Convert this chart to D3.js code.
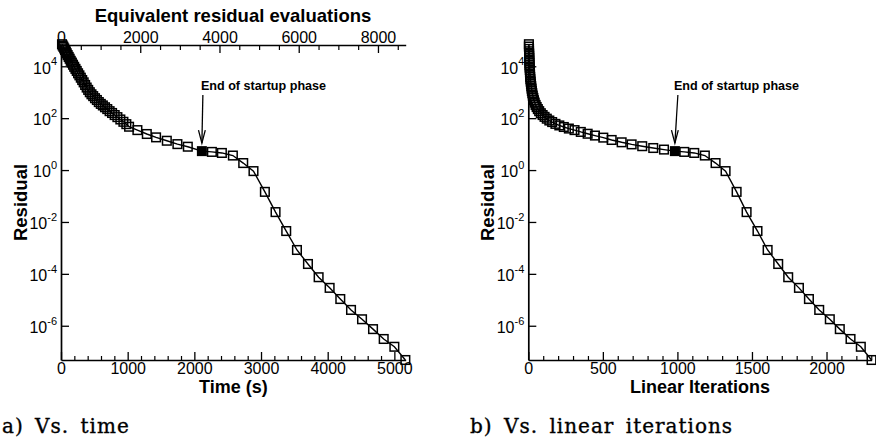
<!DOCTYPE html>
<html>
<head>
<meta charset="utf-8">
<script src="https://cdn.jsdelivr.net/npm/d3@7"></script>
<style>
  body { margin: 0; background: #fff; }
  svg { display: block; }
  text { font-family: "Liberation Sans", Arial, Helvetica, sans-serif; fill: #000; }
  .caption { font-family: "DejaVu Serif", "Liberation Serif", serif; }
</style>
</head>
<body>
<svg id="chart" width="876" height="437"></svg>
<script>
// Residual history against wall-clock time (panel a)
const timeSec = [15,25,36,48,60,73,86,100,115,130,146,163,180,198,217,236,256,276,297,318,
  340,362,385,408,432,457,483,510,538,567,597,628,660,694,729,766,805,846,890,936,
  980,1021,1146,1287,1426,1587,1746,1902,2113,
  2263,2413,2578,2733,2887,3058,3218,3378,3539,3704,3864,4029,4189,4350,4515,4680,4840,5000,5165];
const timeResidualLog10 = [4.85,4.80,4.75,4.69,4.63,4.57,4.50,4.43,4.36,4.29,4.21,4.14,4.06,3.98,3.90,3.82,3.73,3.65,3.56,3.47,
  3.38,3.28,3.18,3.09,3.00,2.92,2.85,2.77,2.70,2.62,2.55,2.49,2.42,2.35,2.27,2.20,2.12,2.04,1.95,1.86,
  1.77,1.67,1.54,1.39,1.26,1.13,1.00,0.90,0.73,
  0.70,0.66,0.56,0.27,-0.04,-0.84,-1.62,-2.35,-3.08,-3.62,-4.13,-4.54,-4.97,-5.39,-5.75,-6.13,-6.51,-6.81,-7.32];
const startupEndTime = 2113;

// Residual history against cumulative linear iterations (panel b)
const linearIters = [4,4,5,5,6,6,7,7,8,8,9,10,11,12,13,14,16,18,20,22,
  24,27,30,34,38,43,49,56,64,73,84,96,109,124,141,160,182,208,238,272,
  310,352,398,447,503,559,626,693,764,838,910,983,
  1046,1113,1184,1256,1323,1397,1464,1537,1605,1676,1743,1815,1882,1951,2022,2089,2161,2230,2302];
const linearResidualLog10 = [4.85,4.76,4.67,4.58,4.49,4.40,4.31,4.22,4.13,4.04,3.95,3.86,3.77,3.68,3.59,3.50,3.41,3.32,3.23,3.14,
  3.05,2.96,2.87,2.78,2.69,2.60,2.51,2.43,2.35,2.27,2.19,2.12,2.05,1.98,1.91,1.85,1.78,1.72,1.66,1.60,
  1.54,1.47,1.40,1.33,1.25,1.16,1.07,0.99,0.92,0.85,0.79,0.73,
  0.70,0.66,0.56,0.27,-0.04,-0.84,-1.62,-2.35,-3.08,-3.62,-4.13,-4.54,-4.97,-5.39,-5.75,-6.13,-6.51,-6.81,-7.32];
const startupEndLinear = 983;

// Axis ranges and tick values
const residualDomainLog10 = [-7.32, 4.82];
const residualTickExps = [4, 2, 0, -2, -4, -6];
const timeDomain = [0, 5170];
const timeTicks = [0, 1000, 2000, 3000, 4000, 5000];
const evalDomain = [0, 8700];
const evalTicks = [0, 2000, 4000, 6000, 8000];
const linearDomain = [0, 2303];
const linearTicks = [0, 500, 1000, 1500, 2000];

const svg = d3.select("#chart");
const plotTop = 45, plotBottom = 360;

const y = d3.scaleLog()
  .domain(residualDomainLog10.map(e => Math.pow(10, e)))
  .range([plotBottom, plotTop]);

function styleAxis(g) {
  g.select(".domain").attr("stroke", "#000").attr("stroke-width", 1.7);
  g.selectAll(".tick line").attr("stroke", "#000").attr("stroke-width", 1.3);
  g.selectAll(".tick text").attr("font-size", 16).attr("fill", "#000");
}

function minorAxis(g, axis, values) {
  g.call(axis.tickValues(values).tickFormat("").tickSizeOuter(0));
  g.select(".domain").remove();
  g.selectAll(".tick line").attr("stroke", "#000").attr("stroke-width", 1.2);
  return g;
}

function panel(opts) {
  const { left, right, xDomain, xTicks, minorStep, xs, logs, endX, xTitle } = opts;
  const x = d3.scaleLinear().domain(xDomain).range([left, right]);

  // bottom axis, ticks pointing inward
  const minorVals = d3.range(0, xDomain[1] + 1e-9, minorStep).filter(v => !xTicks.includes(v));
  svg.append("g").attr("transform", `translate(0,${plotBottom})`)
    .call(g => minorAxis(g, d3.axisBottom(x), minorVals).selectAll(".tick line").attr("y2", -4));
  svg.append("g").attr("transform", `translate(0,${plotBottom})`)
    .call(d3.axisBottom(x).tickValues(xTicks).tickFormat(d3.format("d"))
      .tickSizeInner(-8).tickSizeOuter(0).tickPadding(3))
    .call(styleAxis);

  // left axis with powers of ten
  const yAxis = svg.append("g").attr("transform", `translate(${left},0)`)
    .call(d3.axisLeft(y).tickValues(residualTickExps.map(e => Math.pow(10, e)))
      .tickSizeInner(-8).tickSizeOuter(0).tickPadding(4).tickFormat(""))
    .call(styleAxis);
  yAxis.selectAll(".tick text").each(function (d) {
    const t = d3.select(this).attr("dy", "0.42em").attr("x", -4);
    t.append("tspan").text("10");
    t.append("tspan").attr("font-size", 11).attr("dy", "-0.75em")
      .text(String(Math.round(Math.log10(d))));
  });

  // convergence line
  const pts = xs.map((v, i) => [x(v), y(Math.pow(10, logs[i]))]);
  svg.append("path").datum(pts)
    .attr("d", d3.line())
    .attr("fill", "none").attr("stroke", "#000").attr("stroke-width", 1.4);

  // hollow square symbols, filled at the end of the startup phase
  const s = 8.6, sf = 10;
  svg.append("g").selectAll("rect").data(pts.filter((p, i) => xs[i] !== endX)).join("rect")
    .attr("x", p => p[0] - s / 2).attr("y", p => p[1] - s / 2)
    .attr("width", s).attr("height", s)
    .attr("fill", "none").attr("stroke", "#000").attr("stroke-width", 1.5);
  const endIdx = xs.indexOf(endX);
  const ep = pts[endIdx];
  svg.append("rect")
    .attr("x", ep[0] - sf / 2).attr("y", ep[1] - sf / 2)
    .attr("width", sf).attr("height", sf).attr("fill", "#000");

  // annotation arrow
  const tipY = ep[1] - 8, tailY = 95;
  const tailX = ep[0] + opts.arrowLean;
  svg.append("line")
    .attr("x1", tailX).attr("y1", tailY).attr("x2", ep[0]).attr("y2", tipY)
    .attr("stroke", "#000").attr("stroke-width", 1.3);
  svg.append("path")
    .attr("d", `M${ep[0] - 3.4},${tipY - 13} L${ep[0]},${tipY} L${ep[0] + 3.4},${tipY - 13}`)
    .attr("fill", "none").attr("stroke", "#000").attr("stroke-width", 1.3);
  svg.append("text")
    .attr("x", ep[0] - 1).attr("y", 90)
    .attr("font-size", 12.6).attr("font-weight", "bold")
    .text("End of startup phase");

  // axis titles
  svg.append("text")
    .attr("x", (left + right) / 2).attr("y", 393)
    .attr("text-anchor", "middle").attr("font-size", 18).attr("font-weight", "bold")
    .text(xTitle);
  svg.append("text")
    .attr("transform", `translate(${left - 34},${(plotTop + plotBottom) / 2}) rotate(-90)`)
    .attr("text-anchor", "middle").attr("font-size", 18.5).attr("font-weight", "bold")
    .text("Residual");

  return x;
}

// Panel a: residual vs time, with equivalent residual evaluations on top
panel({
  left: 61, right: 405.7, xDomain: timeDomain, xTicks: timeTicks, minorStep: 200,
  xs: timeSec, logs: timeResidualLog10, endX: startupEndTime, xTitle: "Time (s)", arrowLean: 1
});
const xEval = d3.scaleLinear().domain(evalDomain).range([61, 405.7]);
const evalMinor = d3.range(0, evalDomain[1] + 1e-9, 500).filter(v => !evalTicks.includes(v));
svg.append("g").attr("transform", `translate(0,${plotTop})`)
  .call(g => minorAxis(g, d3.axisTop(xEval), evalMinor).selectAll(".tick line").attr("y2", 5));
svg.append("g").attr("transform", `translate(0,${plotTop})`)
  .call(d3.axisTop(xEval).tickValues(evalTicks).tickFormat(d3.format("d"))
    .tickSizeInner(-8).tickSizeOuter(0).tickPadding(2))
  .call(styleAxis);
svg.append("text")
  .attr("x", 233).attr("y", 22)
  .attr("text-anchor", "middle").attr("font-size", 18.5).attr("font-weight", "bold")
  .text("Equivalent residual evaluations");

// Panel b: residual vs linear iterations
panel({
  left: 528.3, right: 871.7, xDomain: linearDomain, xTicks: linearTicks, minorStep: 100,
  xs: linearIters, logs: linearResidualLog10, endX: startupEndLinear, xTitle: "Linear Iterations", arrowLean: 3
});

// sub-figure captions
svg.selectAll("text.caption")
  .data([{ x: 2, label: "a) Vs. time" }, { x: 470, label: "b) Vs. linear iterations" }])
  .join("text").attr("class", "caption")
  .attr("x", d => d.x).attr("y", 433).attr("font-size", 20)
  .attr("letter-spacing", 1.0).attr("word-spacing", 4)
  .attr("stroke", "#000").attr("stroke-width", 0.35)
  .text(d => d.label);
</script>
</body>
</html>
